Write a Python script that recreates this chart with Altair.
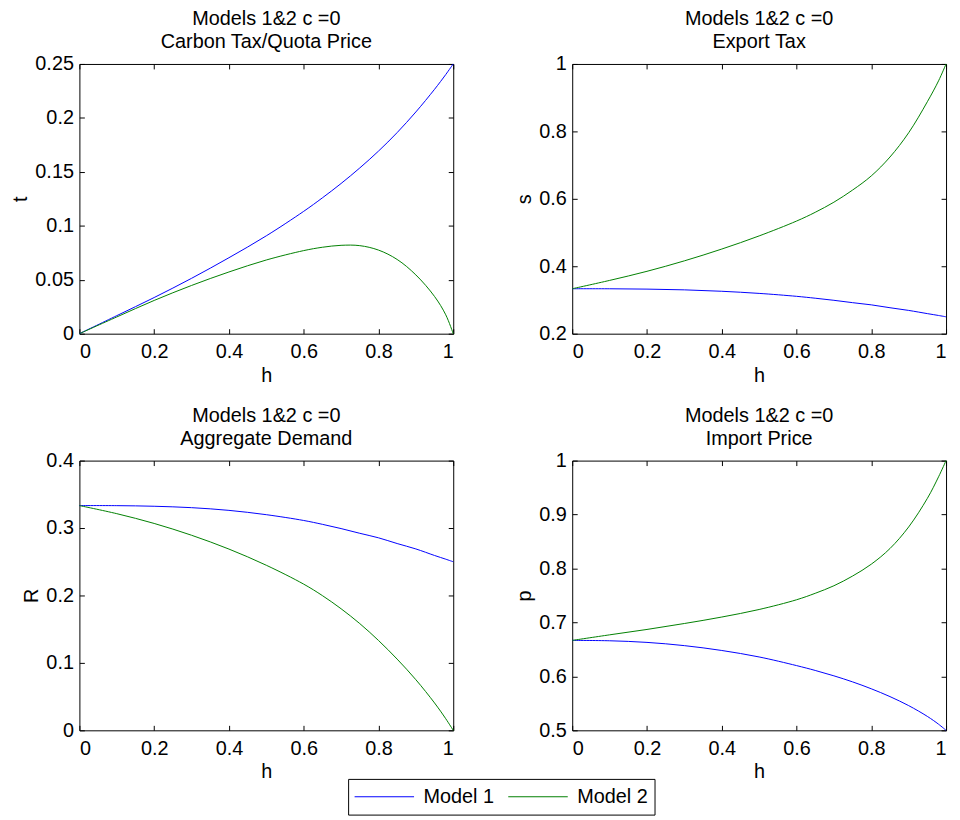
import altair as alt
import pandas as pd

# ---- data ----
H = [0, 0.1, 0.2, 0.3, 0.4, 0.5, 0.6, 0.65, 0.7, 0.75, 0.8, 0.85, 0.9, 0.95, 0.98, 1.0]

t_model1 = [0, 0.0167, 0.0335, 0.0513, 0.0704, 0.0907, 0.1134, 0.1259, 0.1392, 0.1536, 0.1692, 0.1864, 0.2055, 0.2265, 0.2402, 0.25]
t_model2 = [0, 0.0155, 0.0308, 0.0447, 0.0572, 0.0683, 0.0770, 0.0801, 0.0819, 0.0816, 0.0775, 0.0688, 0.0545, 0.0345, 0.0175, 0]

s_model1 = [0.3333, 0.3332, 0.3322, 0.3300, 0.3258, 0.3195, 0.3108, 0.3052, 0.2990, 0.2920, 0.2855, 0.2770, 0.2690, 0.2595, 0.2540, 0.25]
s_model2 = [0.3333, 0.358, 0.385, 0.416, 0.451, 0.490, 0.534, 0.560, 0.590, 0.626, 0.668, 0.724, 0.796, 0.888, 0.950, 1.0]

R_model1 = [0.3333, 0.3332, 0.3323, 0.3302, 0.3262, 0.3198, 0.3112, 0.3055, 0.2992, 0.2922, 0.2855, 0.2770, 0.2690, 0.2593, 0.2538, 0.25]
R_model2 = [0.3333, 0.3213, 0.3068, 0.2893, 0.2688, 0.2448, 0.2168, 0.1998, 0.1803, 0.1583, 0.1333, 0.1056, 0.0751, 0.0406, 0.0172, 0]

p_model1 = [0.6667, 0.6660, 0.6630, 0.6570, 0.6480, 0.6360, 0.6200, 0.6110, 0.6010, 0.5898, 0.5770, 0.5625, 0.5458, 0.5258, 0.5113, 0.5]
p_model2 = [0.6667, 0.677, 0.687, 0.698, 0.710, 0.724, 0.742, 0.754, 0.768, 0.786, 0.808, 0.837, 0.877, 0.930, 0.970, 1.0]

X_TICKS = [0, 0.2, 0.4, 0.6, 0.8, 1]
SERIES = ["Model 1", "Model 2"]
COLORS = ["#0000ff", "#008000"]

FONT = "Liberation Sans"
FS = 20
W, HT = 377, 272


def panel(v1, v2, subtitle, ylab, ydom, yticks):
    n = len(H)
    df = pd.DataFrame({"h": H + H, "v": v1 + v2, "Model": [SERIES[0]] * n + [SERIES[1]] * n})
    base = alt.Chart(df)
    xs = alt.Scale(domain=[0, 1], nice=False, zero=False)
    ys = alt.Scale(domain=ydom, nice=False, zero=False)
    color = alt.Color("Model:N", scale=alt.Scale(domain=SERIES, range=COLORS), title=None)

    lines = base.mark_line(strokeWidth=1, interpolate="catmull-rom").encode(
        x=alt.X("h:Q", scale=xs, axis=alt.Axis(values=X_TICKS, format="~g", ticks=False, tickSize=0,
                                                domain=False, grid=False, labelPadding=8,
                                                title="h", titlePadding=4)),
        y=alt.Y("v:Q", scale=ys, axis=alt.Axis(values=yticks, format="~g", ticks=False, tickSize=0,
                                                domain=False, grid=False, labelPadding=6,
                                                title=ylab, titlePadding=4)),
        color=color,
    )
    tk1 = base.mark_point(opacity=0).encode(
        x=alt.X("h:Q", scale=xs, axis=alt.Axis(orient="top", offset=-HT, values=X_TICKS, labels=False,
                                                domain=False, grid=False, ticks=True, tickSize=5, title=None)),
        y=alt.Y("v:Q", scale=ys, axis=alt.Axis(orient="right", offset=-W, values=yticks, labels=False,
                                                domain=False, grid=False, ticks=True, tickSize=5, title=None)),
    )
    tk2 = base.mark_point(opacity=0).encode(
        x=alt.X("h:Q", scale=xs, axis=alt.Axis(orient="bottom", offset=-HT, values=X_TICKS, labels=False,
                                                domain=False, grid=False, ticks=True, tickSize=5, title=None)),
        y=alt.Y("v:Q", scale=ys, axis=alt.Axis(orient="left", offset=-W, values=yticks, labels=False,
                                                domain=False, grid=False, ticks=True, tickSize=5, title=None)),
    )
    return alt.layer(lines, tk1, tk2).resolve_axis(x="independent", y="independent").properties(
        width=W, height=HT,
        title=alt.TitleParams(["Models 1&2 c =0", subtitle], fontSize=FS, font=FONT, fontWeight="normal",
                              color="black", frame="group", anchor="middle", offset=2, lineHeight=23),
    )


c1 = panel(t_model1, t_model2, "Carbon Tax/Quota Price", "t", [0, 0.25], [0, 0.05, 0.1, 0.15, 0.2, 0.25])
c2 = panel(s_model1, s_model2, "Export Tax", "s", [0.2, 1], [0.2, 0.4, 0.6, 0.8, 1])
c3 = panel(R_model1, R_model2, "Aggregate Demand", "R", [0, 0.4], [0, 0.1, 0.2, 0.3, 0.4])
c4 = panel(p_model1, p_model2, "Import Price", "p", [0.5, 1], [0.5, 0.6, 0.7, 0.8, 0.9, 1])

chart = alt.concat(c1, c2, c3, c4, columns=2, spacing={"row": 128, "column": 120}, bounds="flush").properties(
    autosize=alt.AutoSizeParams(type="none"),
    padding={"left": 72, "top": 53, "right": 880, "bottom": 759},
).configure_view(
    stroke="black", strokeWidth=1
).configure_axis(
    labelFont=FONT, labelFontSize=FS, labelColor="black", titleFont=FONT, titleFontSize=FS,
    titleFontWeight="normal", titleColor="black", tickColor="black", tickWidth=1
).configure_legend(
    orient="none", legendX=271, legendY=721, direction="horizontal", symbolType="stroke",
    symbolSize=3600, symbolStrokeWidth=1, clipHeight=24, labelFont=FONT, labelFontSize=FS,
    labelColor="black", labelOffset=9, columnPadding=13, padding=6, strokeColor="black",
    fillColor="white", cornerRadius=0, symbolOpacity=1
)

chart.save("out.html", embed_options={"renderer": "svg", "actions": False})
